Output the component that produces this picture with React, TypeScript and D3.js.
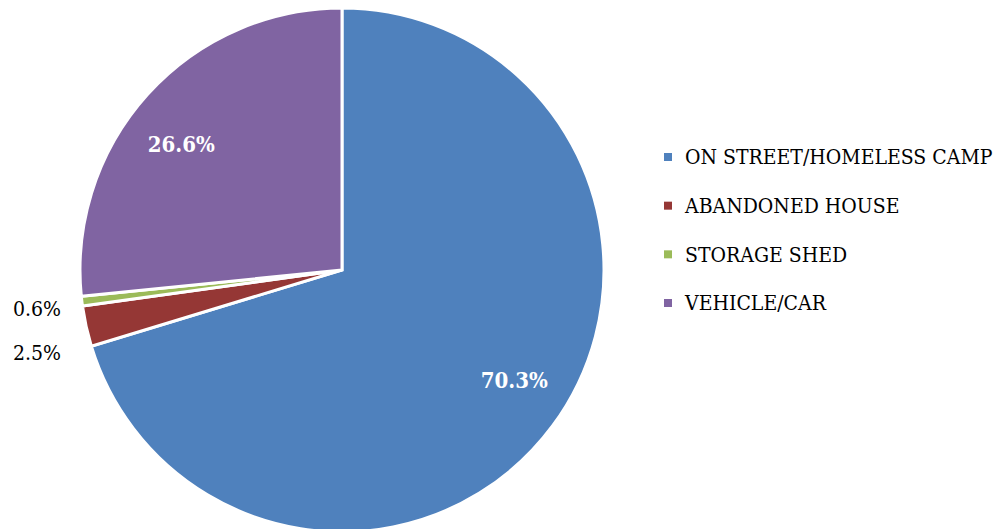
import * as d3 from 'd3'
import React from 'react'

const categories = ['ON STREET/HOMELESS CAMP', 'ABANDONED HOUSE', 'STORAGE SHED', 'VEHICLE/CAR']
const values = [70.3, 2.5, 0.6, 26.6]
const colors = ['#4F81BD', '#953735', '#9BBB59', '#8064A2']
const labelInside = [true, false, false, true]

const width = 1000
const height = 529
const cx = 342
const cy = 270
const radius = 262
const font = '"DejaVu Serif Condensed", "DejaVu Serif", serif'
const labelShift = -4 * Math.PI / 180

type Slice = { label: string, value: number, color: string, inside: boolean }
const data: Slice[] = categories.map((c, i) => ({ label: c, value: values[i], color: colors[i], inside: labelInside[i] }))

export default function App() {
    const pie = d3.pie<Slice>().sort(null).value(d => d.value)
    const arcs = pie(data)
    const arc = d3.arc<d3.PieArcDatum<Slice>>().innerRadius(0).outerRadius(radius)
    const inner = d3.arc<d3.PieArcDatum<Slice>>().innerRadius(radius * 0.78).outerRadius(radius * 0.78)

    // outside labels: keep the upper one near its slice, push the next down
    const outside = arcs.filter(a => !a.data.inside).map(a => {
        const mid = (a.startAngle + a.endAngle) / 2
        return { a, y: cy - Math.cos(mid) * (radius + 20) + 5 }
    }).sort((p, q) => p.y - q.y)
    for (let i = 1; i < outside.length; i++) {
        if (outside[i].y - outside[i - 1].y < 44) outside[i].y = outside[i - 1].y + 44
    }

    const legendY = d3.scalePoint<string>().domain(categories).range([157, 303])

    return (
        <svg width={width} height={height} style={{ position: 'absolute', left: 0, top: 0 }}>
            <rect width={width} height={height} fill="#fff" />
            <g transform={`translate(${cx},${cy})`}>
                {arcs.map((a, i) => (
                    <path key={i} d={arc(a) || ''} fill={a.data.color} stroke="#fff" strokeWidth={3} strokeLinejoin="miter" />
                ))}
                {arcs.filter(a => a.data.inside).map((a, i) => {
                    const [x, y] = inner.centroid({ ...a, startAngle: a.startAngle + labelShift, endAngle: a.endAngle + labelShift })
                    return (
                        <text key={i} x={x} y={y} dy="0.35em" textAnchor="middle" fill="#fff"
                            fontFamily={font} fontWeight="bold" fontSize={22}>
                            {a.data.value.toFixed(1)}%
                        </text>
                    )
                })}
            </g>
            {outside.map((o, i) => (
                <text key={i} x={cx - radius - 19} y={o.y} dy="0.35em" textAnchor="end" fill="#000"
                    fontFamily={font} fontSize={21}>
                    {o.a.data.value.toFixed(1)}%
                </text>
            ))}
            {categories.map((c, i) => (
                <g key={c} transform={`translate(664,${legendY(c)})`}>
                    <rect x={0} y={-4} width={8} height={8} fill={colors[i]} />
                    <text x={21} y={0} dy="0.35em" fill="#000" fontFamily={font} fontSize={21}>{c}</text>
                </g>
            ))}
        </svg>
    )
}
